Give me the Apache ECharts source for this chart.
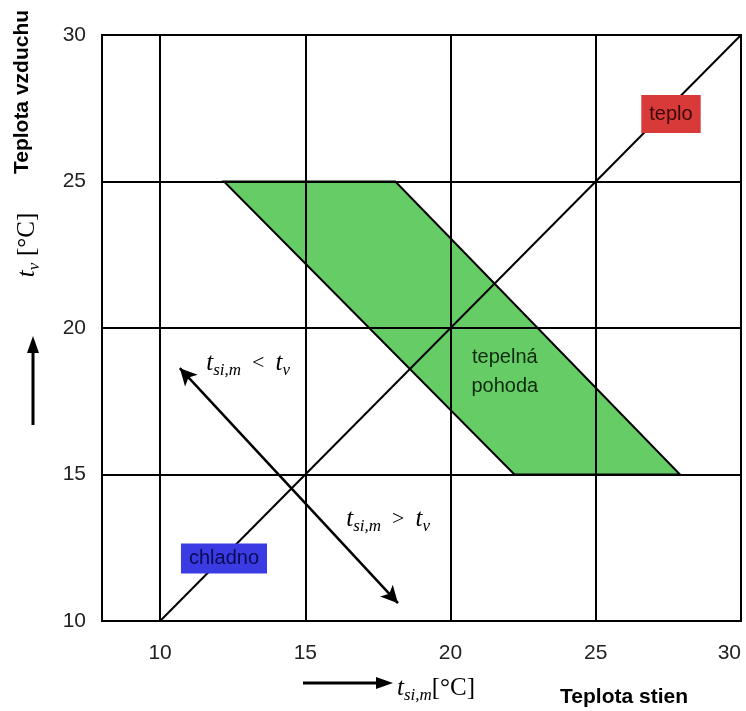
<!DOCTYPE html>
<html><head><meta charset="utf-8">
<script src="https://cdn.jsdelivr.net/npm/echarts@6/dist/echarts.min.js"></script>
<style>html,body{margin:0;padding:0;background:#fff}#c{width:746px;height:711px}</style>
</head><body><div id="c"></div>
<script>
// ---- data ----
const xTicks = [10, 15, 20, 25, 30];
const yTicks = [10, 15, 20, 25, 30];
const gridX = [10, 15, 20, 25];
const gridY = [15, 20, 25];
const diagX = [10, 30];
const diagY = [10, 30];
const bandX = [12.2, 18.1, 27.9, 22.2];
const bandY = [25, 25, 15, 15];
const arrowFrom = [10.68, 18.63];
const arrowTo = [18.19, 10.61];
const zoneNames = ['teplo', 'chladno'];
const zoneX = [27.59, 12.2];
const zoneY = [27.3, 12.13];
const comfortText = 'tepelná\npohoda';
const comfortX = [21.87];
const comfortY = [18.5];
const relOps = ['<', '>'];
const relX = [13.03, 17.85];
const relY = [18.8, 13.48];

const SANS = 'Liberation Sans, Arial, sans-serif';
const SERIF = 'Liberation Serif, Times New Roman, serif';
const richT = {
  t: {fontFamily: SERIF, fontStyle: 'italic', fontSize: 25, lineHeight: 32, verticalAlign: 'middle', color: '#000'},
  s: {fontFamily: SERIF, fontStyle: 'italic', fontSize: 17, lineHeight: 16, verticalAlign: 'bottom', color: '#000'},
  o: {fontFamily: SERIF, fontSize: 22, lineHeight: 32, verticalAlign: 'middle', color: '#000'},
  u: {fontFamily: SERIF, fontSize: 25, lineHeight: 32, verticalAlign: 'middle', color: '#000'}
};

const chart = echarts.init(document.getElementById('c'));
const zoneColors = {teplo: ['#d83a3a', '#3a0505'], chladno: ['#3b3be4', '#0a0a55']};

chart.setOption({
  animation: false,
  backgroundColor: '#fff',
  grid: {left: 102, right: 5, top: 35, bottom: 90, show: true, borderColor: '#000', borderWidth: 2,
    containLabel: false, outerBoundsMode: 'none'},
  xAxis: {
    type: 'value', min: 8, max: 30,
    axisLine: {show: false}, axisTick: {show: false}, splitLine: {show: false},
    axisLabel: {customValues: xTicks, fontSize: 21, fontFamily: SANS, color: '#222', margin: 22, alignMaxLabel: 'right'}
  },
  yAxis: {
    type: 'value', min: 10, max: 30, interval: 5,
    axisLine: {show: false}, axisTick: {show: false}, splitLine: {show: false},
    axisLabel: {fontSize: 21, fontFamily: SANS, color: '#222', margin: 16}
  },
  series: [
    {
      type: 'custom', z: 1,
      data: [[bandX[0], bandY[0]]],
      renderItem: (params, api) => ({
        type: 'polygon',
        shape: {points: bandX.map((x, i) => api.coord([x, bandY[i]]))},
        style: {fill: '#66cc66', stroke: '#000', lineWidth: 2}
      })
    },
    {
      type: 'line', z: 3, data: [], silent: true,
      markLine: {
        silent: true, symbol: 'none', label: {show: false},
        lineStyle: {color: '#000', type: 'solid', width: 2},
        data: gridX.map(v => ({xAxis: v})).concat(gridY.map(v => ({yAxis: v})))
      }
    },
    {
      type: 'line', z: 4, symbol: 'none', silent: true,
      lineStyle: {color: '#000', width: 2},
      data: diagX.map((x, i) => [x, diagY[i]])
    },
    {
      type: 'line', z: 4, data: [], silent: true,
      markLine: {
        silent: true, symbol: ['arrow', 'arrow'], symbolSize: [13, 17], label: {show: false},
        lineStyle: {color: '#000', type: 'solid', width: 2.5},
        data: [[{coord: arrowFrom}, {coord: arrowTo}]]
      }
    },
    {
      type: 'scatter', z: 6, symbolSize: 0, silent: true, itemStyle: {opacity: 1},
      data: zoneNames.map((n, i) => ({
        value: [zoneX[i], zoneY[i]], name: n,
        label: {backgroundColor: zoneColors[n][0], color: zoneColors[n][1],
          padding: n === 'teplo' ? [9, 8, 9, 8] : [5, 8, 5, 8]}
      })),
      label: {show: true, position: 'inside', formatter: p => p.name, fontFamily: SANS, fontSize: 20}
    },
    {
      type: 'scatter', z: 6, symbolSize: 0, silent: true, itemStyle: {opacity: 1},
      data: [{value: [comfortX[0], comfortY[0]], name: comfortText}],
      label: {show: true, position: 'inside', formatter: p => p.name, fontFamily: SANS, fontSize: 20, lineHeight: 29, color: '#0d2a0d', align: 'center'}
    },
    {
      type: 'scatter', z: 6, symbolSize: 0, silent: true, itemStyle: {opacity: 1},
      data: relOps.map((o, i) => ({value: [relX[i], relY[i]], name: o})),
      label: {
        show: true, position: 'inside',
        formatter: p => '{t|t}{s|si,m}{o|  ' + p.name + '  }{t|t}{s|v}',
        rich: richT
      }
    }
  ],
  graphic: [
    {type: 'text', x: 22, y: 92, rotation: Math.PI / 2,
      style: {text: 'Teplota vzduchu', fontFamily: SANS, fontWeight: 'bold', fontSize: 21, fill: '#000', align: 'center', verticalAlign: 'middle'}},
    {type: 'text', x: 27, y: 245, rotation: Math.PI / 2,
      style: {text: '{t|t}{s|v}  {u|[°C]}', rich: richT, align: 'center', verticalAlign: 'middle'}},
    {type: 'line', shape: {x1: 33, y1: 425, x2: 33, y2: 350}, style: {stroke: '#000', lineWidth: 3}},
    {type: 'polygon', shape: {points: [[33, 336], [27, 353], [39, 353]]}, style: {fill: '#000'}},
    {type: 'line', shape: {x1: 303, y1: 683, x2: 378, y2: 683}, style: {stroke: '#000', lineWidth: 3}},
    {type: 'polygon', shape: {points: [[393, 683], [376, 677], [376, 689]]}, style: {fill: '#000'}},
    {type: 'text', x: 436, y: 688,
      style: {text: '{t|t}{s|si,m}{u|[°C]}', rich: richT, align: 'center', verticalAlign: 'middle'}},
    {type: 'text', x: 624, y: 697,
      style: {text: 'Teplota stien', fontFamily: SANS, fontWeight: 'bold', fontSize: 21, fill: '#000', align: 'center', verticalAlign: 'middle'}}
  ]
});
</script>
</body></html>
